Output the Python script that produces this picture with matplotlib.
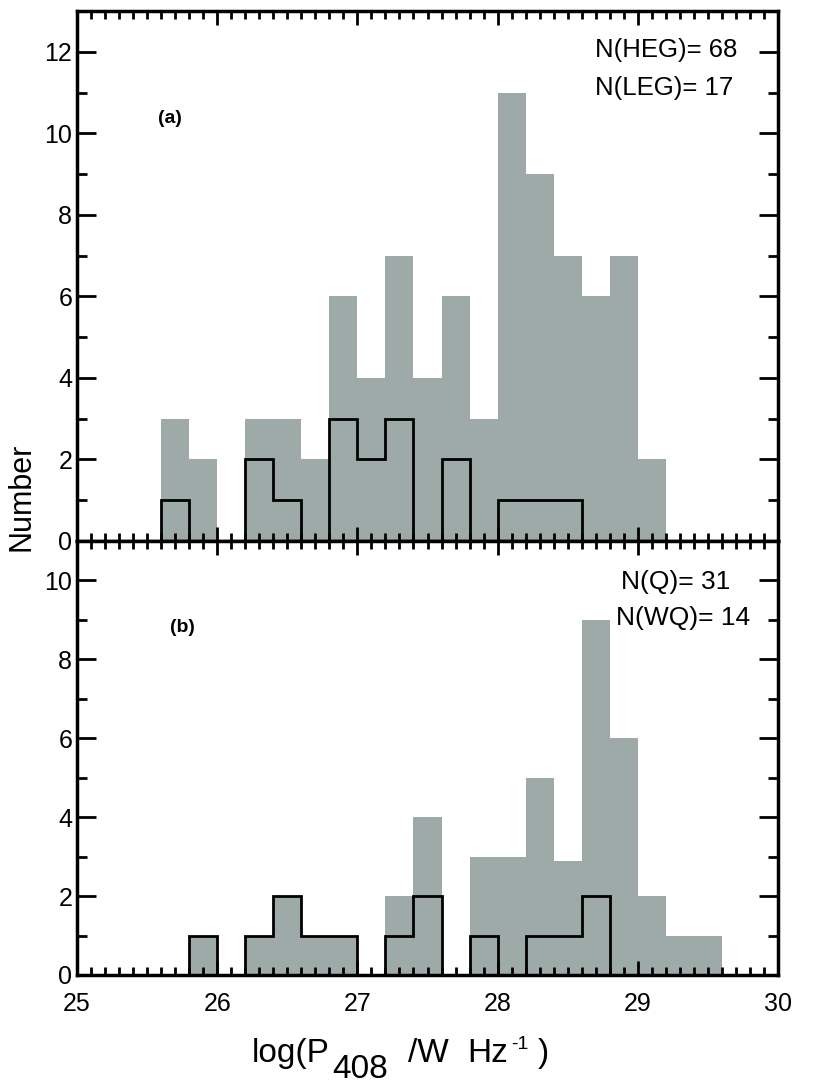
import numpy as np
import matplotlib
matplotlib.use("Agg")
import matplotlib.pyplot as plt
from matplotlib.ticker import MultipleLocator

plt.rcParams['font.family'] = ['Liberation Sans', 'DejaVu Sans']

# bin left edges (width 0.2) and counts
bin_width = 0.2
bins_a = [25.6, 25.8, 26.0, 26.2, 26.4, 26.6, 26.8, 27.0, 27.2, 27.4,
          27.6, 27.8, 28.0, 28.2, 28.4, 28.6, 28.8, 29.0]
all_a = [3, 2, 0, 3, 3, 2, 6, 4, 7, 4, 6, 3, 11, 9, 7, 6, 7, 2]
leg_a = [1, 0, 0, 2, 1, 0, 3, 2, 3, 0, 2, 0, 1, 1, 1, 0, 0, 0]

bins_b = [25.8, 26.0, 26.2, 26.4, 26.6, 26.8, 27.0, 27.2, 27.4, 27.6,
          27.8, 28.0, 28.2, 28.4, 28.6, 28.8, 29.0, 29.2, 29.4]
all_b = [1, 0, 1, 2, 1, 1, 0, 2, 4, 0, 3, 3, 5, 2.9, 9, 6, 2, 1, 1]
wq_b = [1, 0, 1, 2, 1, 1, 0, 1, 2, 0, 1, 0, 1, 1, 2, 0, 0, 0, 0]

xticks = [25, 26, 27, 28, 29, 30]

gray = '#9eaaa8'

W, H = 825, 1086
fig = plt.figure(figsize=(W/100, H/100), dpi=100)
L, R = 77/W, 778/W
ax1 = fig.add_axes([L, 1-541/H, R-L, (541-11)/H])
ax2 = fig.add_axes([L, 1-975/H, R-L, (975-541)/H])

def draw(ax, lefts, tot, sub, ymax):
    lefts = np.array(lefts)
    ax.bar(lefts, tot, width=bin_width, align='edge', color=gray,
           edgecolor='none', linewidth=0, zorder=1)
    edges = np.append(lefts, lefts[-1] + bin_width)
    ax.stairs(sub, edges, color='black', linewidth=2.0, baseline=0, zorder=2)
    ax.set_xlim(25, 30)
    ax.set_ylim(0, ymax)
    ax.set_xticks(xticks)
    ax.xaxis.set_minor_locator(MultipleLocator(0.1))
    ax.yaxis.set_major_locator(MultipleLocator(2))
    ax.yaxis.set_minor_locator(MultipleLocator(1))
    ax.tick_params(which='both', direction='in', top=True, right=True,
                   width=2, labelsize=18, color='black')
    ax.tick_params(which='major', axis='y', length=14)
    ax.tick_params(which='minor', axis='y', length=7)
    ax.tick_params(which='major', axis='x', length=10)
    ax.tick_params(which='minor', axis='x', length=6)
    for s in ax.spines.values():
        s.set_linewidth(2.5)
        s.set_zorder(5)

draw(ax1, bins_a, all_a, leg_a, 13)
draw(ax2, bins_b, all_b, wq_b, 11)

ax1.tick_params(axis='x', labelbottom=False)
ax2.tick_params(axis='x', pad=12)
ax1.set_yticks([0, 2, 4, 6, 8, 10, 12])
ax2.set_yticks([0, 2, 4, 6, 8, 10])

def px(x, y):
    return x / W, 1 - y / H

fig.text(*px(158, 118), '(a)', fontsize=14, fontweight='bold',
         ha='left', va='center')
fig.text(*px(170, 628), '(b)', fontsize=14, fontweight='bold',
         ha='left', va='center')

fig.text(*px(595, 50), 'N(HEG)= 68', fontsize=18.5, ha='left', va='center')
fig.text(*px(595, 88), 'N(LEG)= 17', fontsize=18.5, ha='left', va='center')
fig.text(*px(621, 582), 'N(Q)= 31', fontsize=19, ha='left', va='center')
fig.text(*px(616, 618), 'N(WQ)= 14', fontsize=19, ha='left', va='center')

fig.text(*px(22, 497), 'Number', rotation=90, fontsize=22,
         ha='center', va='center')

# x label built from pieces: full-size lowered subscript as in the original
pieces = [('log(P', 24, 252, 1062), ('408', 24, 332, 1078),
          ('/W', 24, 408, 1062), ('Hz', 24, 467, 1062),
          ('-1', 14, 511, 1049), (')', 24, 538, 1062)]
for txt, fs, x, y in pieces:
    fig.text(*px(x, y), txt, fontsize=fs, ha='left', va='baseline')

fig.savefig('out.png', dpi=100)
